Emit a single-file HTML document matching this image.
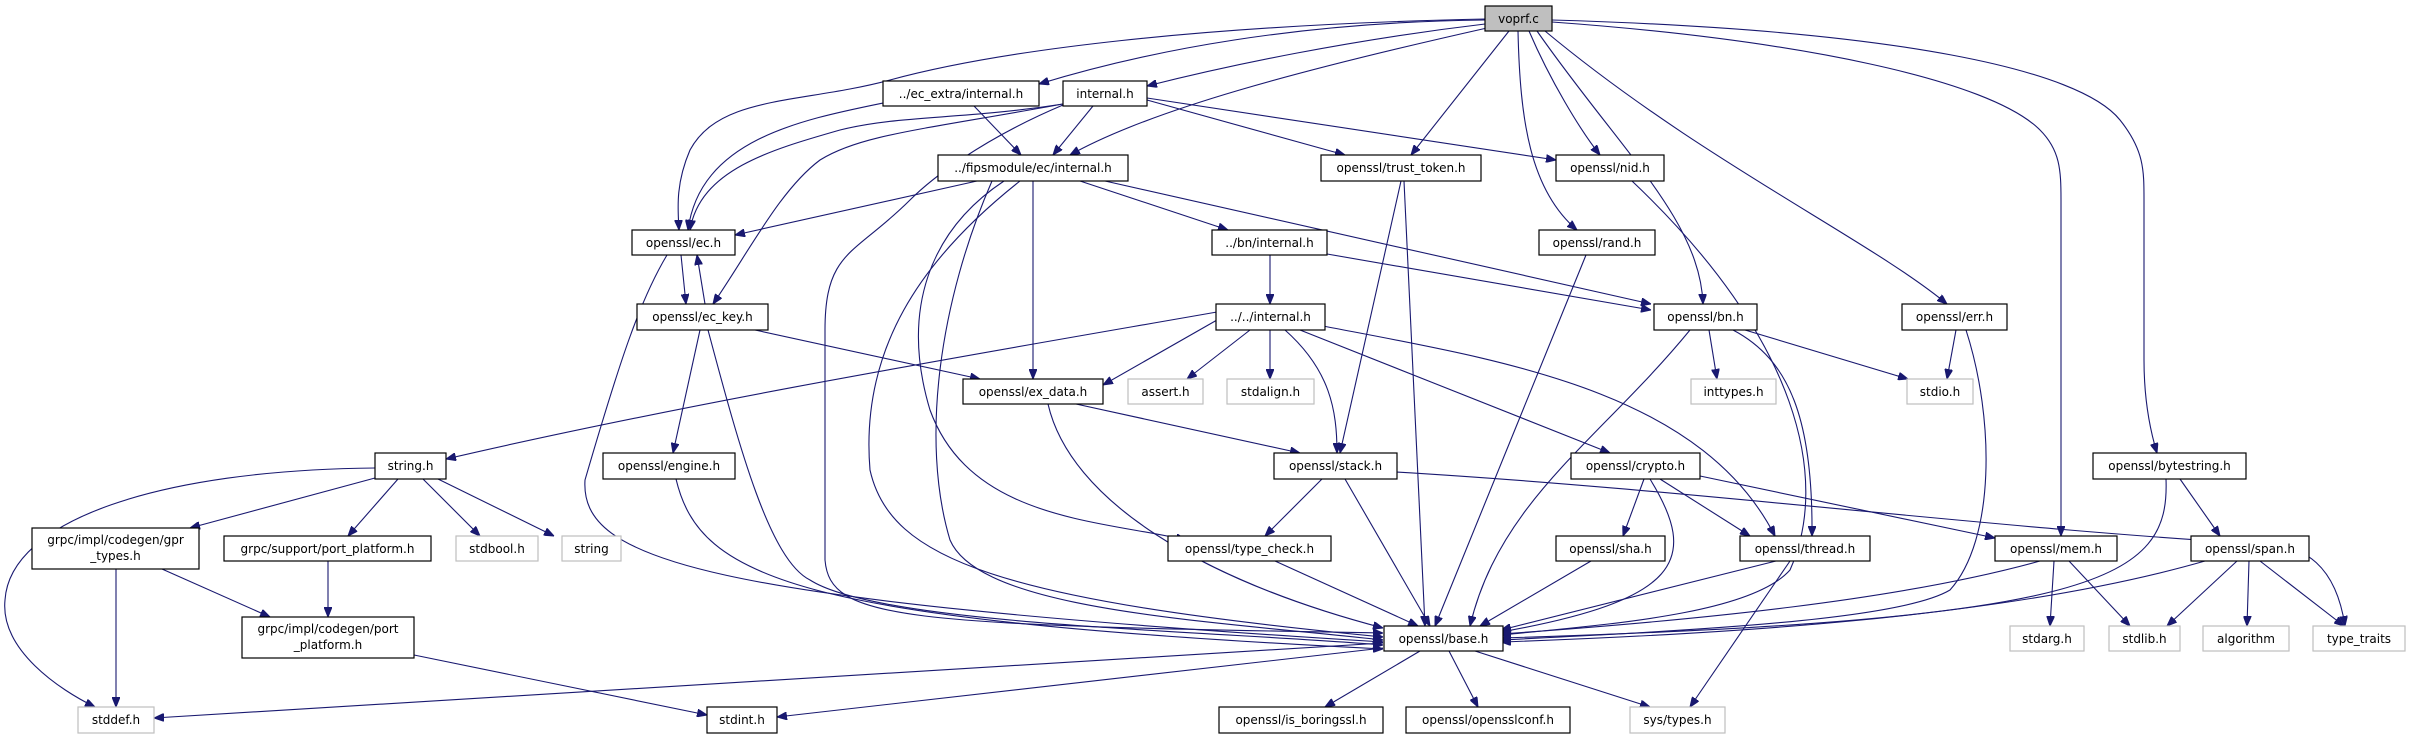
<!DOCTYPE html>
<html><head><meta charset="utf-8"><style>
html,body{margin:0;padding:0;background:#fff;}
svg{display:block;}
text{font-family:"DejaVu Sans","Liberation Sans",sans-serif;font-size:12px;fill:#000;}
.n{fill:#fff;stroke:#000;stroke-width:1.2;}
.g{fill:#fff;stroke:#bfbfbf;stroke-width:1.2;}
.e{fill:none;stroke:#191970;stroke-width:1.1;}
</style></head><body>
<svg width="2418" height="739" viewBox="0 0 2418 739" xmlns="http://www.w3.org/2000/svg">
<defs><marker id="a" markerWidth="10" markerHeight="8" refX="10" refY="4" orient="auto" markerUnits="userSpaceOnUse"><path d="M0,0 L10,4 L0,8 z" fill="#191970" stroke="#191970"/></marker></defs>
<g class="e" marker-end="url(#a)">
<!-- voprf.c -->
<path d="M1485,20 C1300,22 1150,50 1039,84"/>
<path d="M1485,24 C1350,40 1230,65 1147,86"/>
<path d="M1485,19 C1200,25 1000,50 890,80 C800,104 720,95 690,150 C675,185 678,210 679,230"/>
<path d="M1487,28 C1300,70 1150,110 1070,155"/>
<path d="M1509,31 L1411,155"/>
<path d="M1529,31 C1550,80 1580,130 1600,155"/>
<path d="M1518,31 C1520,120 1530,190 1577,230"/>
<path d="M1537,31 C1620,150 1700,220 1703,304"/>
<path d="M1545,31 C1700,160 1870,240 1947,304"/>
<path d="M1552,22 C1800,40 1990,80 2040,130 C2060,150 2061,170 2061,200 L2061,536"/>
<path d="M1552,20 C1900,30 2080,70 2120,120 C2144,150 2144,170 2144,200 L2144,360 C2144,400 2150,430 2157,453"/>
<!-- internal.h -->
<path d="M1063,104 C960,120 900,115 840,130 C770,150 700,170 690,230"/>
<path d="M1063,104 C920,130 860,135 820,160 C780,190 750,250 713,304"/>
<path d="M1093,106 L1053,155"/>
<path d="M1147,100 L1345,155"/>
<path d="M1147,98 L1556,160"/>
<path d="M1063,105 C980,140 930,180 910,200 C855,255 825,250 825,330 L825,560 C830,620 900,625 1383,633"/>
<!-- ec_extra -->
<path d="M883,103 C800,120 700,140 688,230"/>
<path d="M974,106 L1021,155"/>
<!-- fips -->
<path d="M977,181 L735,235"/>
<path d="M1033,181 L1033,379"/>
<path d="M1080,181 L1228,230"/>
<path d="M1105,181 L1651,304"/>
<path d="M1020,181 C920,260 860,350 870,470 C890,560 1000,600 1383,637"/>
<path d="M1004,181 C930,230 900,310 930,410 C970,520 1100,520 1186,540"/>
<path d="M992,181 C940,300 920,440 950,540 C980,610 1200,620 1383,640"/>
<!-- ec.h / ec_key -->
<path d="M681,255 L686,304"/>
<path d="M705,304 L697,255"/>
<path d="M667,255 C640,300 620,360 585,480 C580,560 700,600 1383,642"/>
<path d="M755,330 L980,379"/>
<path d="M700,330 L673,453"/>
<path d="M708,330 C740,450 770,560 810,580 C880,625 1200,630 1383,645"/>
<!-- bn/internal -->
<path d="M1270,255 L1270,304"/>
<path d="M1327,254 L1651,310"/>
<!-- ../../internal -->
<path d="M1217,320 L1103,385"/>
<path d="M1250,330 L1187,379"/>
<path d="M1270,330 L1270,379"/>
<path d="M1285,330 C1330,370 1337,410 1337,453"/>
<path d="M1300,330 L1610,453"/>
<path d="M1323,326 C1500,360 1700,390 1775,536"/>
<path d="M1217,312 C1000,350 700,400 446,459"/>
<!-- bn.h -->
<path d="M1709,330 L1717,379"/>
<path d="M1745,330 L1908,379"/>
<path d="M1733,330 C1790,360 1813,420 1812,536"/>
<path d="M1690,330 C1600,440 1500,500 1470,626"/>
<!-- trust_token, nid, rand, err -->
<path d="M1401,181 L1340,453"/>
<path d="M1404,181 L1425,626"/>
<path d="M1632,181 C1800,340 1830,480 1790,570 C1750,615 1600,625 1501,635"/>
<path d="M1586,255 L1435,626"/>
<path d="M1956,330 L1947,379"/>
<path d="M1966,330 C1995,420 1995,540 1950,590 C1900,620 1700,630 1501,640"/>
<!-- ex_data -->
<path d="M1076,404 L1300,453"/>
<path d="M1048,404 C1070,500 1200,580 1383,628"/>
<!-- stack -->
<path d="M1322,479 L1265,536"/>
<path d="M1345,479 L1430,626"/>
<path d="M1396,472 C1700,490 2000,530 2280,545 C2300,550 2335,560 2345,626"/>
<!-- crypto -->
<path d="M1644,479 L1623,536"/>
<path d="M1660,479 L1750,536"/>
<path d="M1700,476 L1995,538"/>
<path d="M1650,479 C1700,560 1680,600 1501,632"/>
<!-- sha thread mem bytestring span -->
<path d="M1591,561 L1480,626"/>
<path d="M1776,561 L1501,630"/>
<path d="M1790,561 L1690,707"/>
<path d="M2040,561 C1900,600 1700,620 1501,634"/>
<path d="M2054,561 L2050,626"/>
<path d="M2069,561 L2130,626"/>
<path d="M2180,479 L2220,536"/>
<path d="M2166,479 C2170,580 2100,620 1501,638"/>
<path d="M2205,561 C2000,620 1700,635 1501,642"/>
<path d="M2237,561 L2167,626"/>
<path d="M2249,561 L2247,626"/>
<path d="M2260,561 L2344,626"/>
<!-- type_check, engine -->
<path d="M1275,561 L1418,626"/>
<path d="M676,479 C700,580 800,620 1383,649"/>
<!-- string.h -->
<path d="M375,468 C160,470 10,520 5,600 C0,650 60,690 95,707"/>
<path d="M375,478 L190,528"/>
<path d="M398,479 L348,536"/>
<path d="M423,479 L480,536"/>
<path d="M438,479 L554,536"/>
<!-- grpc -->
<path d="M116,569 L116,707"/>
<path d="M162,569 L270,617"/>
<path d="M328,561 L328,617"/>
<path d="M414,655 L707,715"/>
<!-- base.h -->
<path d="M1383,643 L154,718"/>
<path d="M1383,648 L777,717"/>
<path d="M1420,651 L1325,707"/>
<path d="M1449,651 L1478,707"/>
<path d="M1475,651 L1650,707"/>
</g>
<g>
<rect class="n" x="1485" y="6" width="67" height="25" style="fill:#bfbfbf"/><text x="1518.5" y="23" text-anchor="middle">voprf.c</text>
<rect class="n" x="883" y="81" width="156" height="25"/><text x="961" y="98" text-anchor="middle">../ec_extra/internal.h</text>
<rect class="n" x="1063" y="81" width="84" height="25"/><text x="1105" y="98" text-anchor="middle">internal.h</text>
<rect class="n" x="938" y="155" width="190" height="26"/><text x="1033" y="172" text-anchor="middle">../fipsmodule/ec/internal.h</text>
<rect class="n" x="1321" y="155" width="160" height="26"/><text x="1401" y="172" text-anchor="middle">openssl/trust_token.h</text>
<rect class="n" x="1556" y="155" width="108" height="26"/><text x="1610" y="172" text-anchor="middle">openssl/nid.h</text>
<rect class="n" x="632" y="230" width="103" height="25"/><text x="683.5" y="247" text-anchor="middle">openssl/ec.h</text>
<rect class="n" x="1212" y="230" width="115" height="25"/><text x="1269.5" y="247" text-anchor="middle">../bn/internal.h</text>
<rect class="n" x="1539" y="230" width="116" height="25"/><text x="1597" y="247" text-anchor="middle">openssl/rand.h</text>
<rect class="n" x="637" y="304" width="131" height="26"/><text x="702.5" y="321" text-anchor="middle">openssl/ec_key.h</text>
<rect class="n" x="1216" y="304" width="109" height="26"/><text x="1270.5" y="321" text-anchor="middle">../../internal.h</text>
<rect class="n" x="1654" y="304" width="103" height="26"/><text x="1705.5" y="321" text-anchor="middle">openssl/bn.h</text>
<rect class="n" x="1902" y="304" width="105" height="26"/><text x="1954.5" y="321" text-anchor="middle">openssl/err.h</text>
<rect class="n" x="963" y="379" width="140" height="25"/><text x="1033" y="396" text-anchor="middle">openssl/ex_data.h</text>
<rect class="g" x="1128" y="379" width="75" height="25"/><text x="1165.5" y="396" text-anchor="middle">assert.h</text>
<rect class="g" x="1227" y="379" width="87" height="25"/><text x="1270.5" y="396" text-anchor="middle">stdalign.h</text>
<rect class="g" x="1691" y="379" width="85" height="25"/><text x="1733.5" y="396" text-anchor="middle">inttypes.h</text>
<rect class="g" x="1907" y="379" width="66" height="25"/><text x="1940" y="396" text-anchor="middle">stdio.h</text>
<rect class="n" x="375" y="453" width="71" height="26"/><text x="410.5" y="470" text-anchor="middle">string.h</text>
<rect class="n" x="603" y="453" width="132" height="26"/><text x="669" y="470" text-anchor="middle">openssl/engine.h</text>
<rect class="n" x="1274" y="453" width="123" height="26"/><text x="1335.5" y="470" text-anchor="middle">openssl/stack.h</text>
<rect class="n" x="1571" y="453" width="129" height="26"/><text x="1635.5" y="470" text-anchor="middle">openssl/crypto.h</text>
<rect class="n" x="2093" y="453" width="153" height="26"/><text x="2169.5" y="470" text-anchor="middle">openssl/bytestring.h</text>
<rect class="n" x="32" y="528" width="167" height="41"/><text x="115.5" y="544" text-anchor="middle">grpc/impl/codegen/gpr</text><text x="115.5" y="560" text-anchor="middle">_types.h</text>
<rect class="n" x="224" y="536" width="207" height="25"/><text x="327.5" y="553" text-anchor="middle">grpc/support/port_platform.h</text>
<rect class="g" x="456" y="536" width="82" height="25"/><text x="497" y="553" text-anchor="middle">stdbool.h</text>
<rect class="g" x="562" y="536" width="59" height="25"/><text x="591.5" y="553" text-anchor="middle">string</text>
<rect class="n" x="1168" y="536" width="163" height="25"/><text x="1249.5" y="553" text-anchor="middle">openssl/type_check.h</text>
<rect class="n" x="1556" y="536" width="109" height="25"/><text x="1610.5" y="553" text-anchor="middle">openssl/sha.h</text>
<rect class="n" x="1740" y="536" width="130" height="25"/><text x="1805" y="553" text-anchor="middle">openssl/thread.h</text>
<rect class="n" x="1995" y="536" width="122" height="25"/><text x="2056" y="553" text-anchor="middle">openssl/mem.h</text>
<rect class="n" x="2191" y="536" width="118" height="25"/><text x="2250" y="553" text-anchor="middle">openssl/span.h</text>
<rect class="n" x="242" y="617" width="172" height="41"/><text x="328" y="633" text-anchor="middle">grpc/impl/codegen/port</text><text x="328" y="649" text-anchor="middle">_platform.h</text>
<rect class="n" x="1384" y="626" width="119" height="25"/><text x="1443.5" y="643" text-anchor="middle">openssl/base.h</text>
<rect class="g" x="2010" y="626" width="74" height="25"/><text x="2047" y="643" text-anchor="middle">stdarg.h</text>
<rect class="g" x="2109" y="626" width="71" height="25"/><text x="2144.5" y="643" text-anchor="middle">stdlib.h</text>
<rect class="g" x="2203" y="626" width="86" height="25"/><text x="2246" y="643" text-anchor="middle">algorithm</text>
<rect class="g" x="2313" y="626" width="92" height="25"/><text x="2359" y="643" text-anchor="middle">type_traits</text>
<rect class="g" x="78" y="707" width="76" height="26"/><text x="116" y="724" text-anchor="middle">stddef.h</text>
<rect class="n" x="707" y="707" width="70" height="26"/><text x="742" y="724" text-anchor="middle">stdint.h</text>
<rect class="n" x="1219" y="707" width="164" height="26"/><text x="1301" y="724" text-anchor="middle">openssl/is_boringssl.h</text>
<rect class="n" x="1406" y="707" width="164" height="26"/><text x="1488" y="724" text-anchor="middle">openssl/opensslconf.h</text>
<rect class="g" x="1630" y="707" width="95" height="26"/><text x="1677.5" y="724" text-anchor="middle">sys/types.h</text>
</g>
</svg>
</body></html>
